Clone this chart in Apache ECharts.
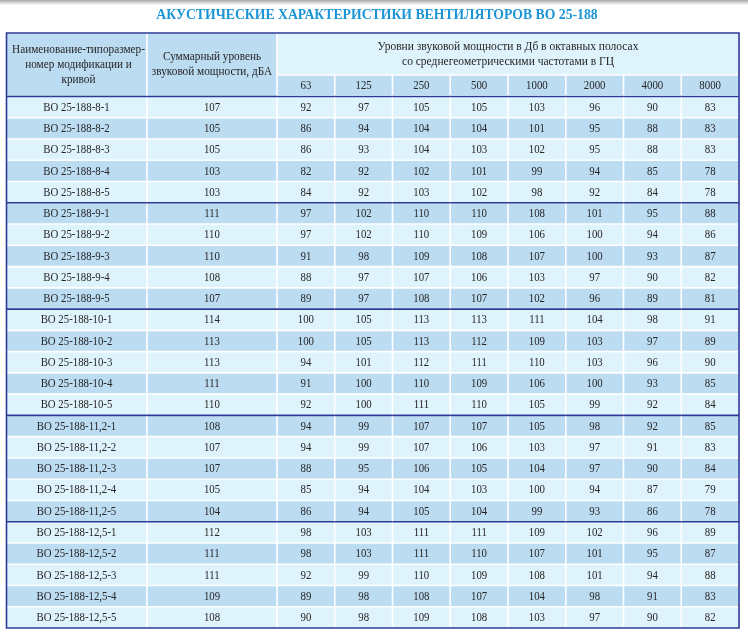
<!DOCTYPE html>
<html>
<head>
<meta charset="utf-8">
<script src="https://cdn.jsdelivr.net/npm/echarts@6/dist/echarts.min.js"></script>
<style>html,body{margin:0;padding:0;background:#fff}#c{width:748px;height:638px}</style>
</head>
<body>
<div id="c"></div>
<script>
// ---- data ----
const titleText = 'АКУСТИЧЕСКИЕ ХАРАКТЕРИСТИКИ ВЕНТИЛЯТОРОВ ВО 25-188';
const headName = 'Наименование-типоразмер-\nномер модификации и\nкривой';
const headTotal = 'Суммарный уровень\nзвуковой мощности, дБА';
const headBands = 'Уровни звуковой мощности в Дб в октавных полосах\nсо среднегеометрическими частотами в ГЦ';
const freqs = ['63', '125', '250', '500', '1000', '2000', '4000', '8000'];
const names = [
  'ВО 25-188-8-1', 'ВО 25-188-8-2', 'ВО 25-188-8-3', 'ВО 25-188-8-4', 'ВО 25-188-8-5',
  'ВО 25-188-9-1', 'ВО 25-188-9-2', 'ВО 25-188-9-3', 'ВО 25-188-9-4', 'ВО 25-188-9-5',
  'ВО 25-188-10-1', 'ВО 25-188-10-2', 'ВО 25-188-10-3', 'ВО 25-188-10-4', 'ВО 25-188-10-5',
  'ВО 25-188-11,2-1', 'ВО 25-188-11,2-2', 'ВО 25-188-11,2-3', 'ВО 25-188-11,2-4', 'ВО 25-188-11,2-5',
  'ВО 25-188-12,5-1', 'ВО 25-188-12,5-2', 'ВО 25-188-12,5-3', 'ВО 25-188-12,5-4', 'ВО 25-188-12,5-5'
];
const totals = [107,105,105,103,103, 111,110,110,108,107, 114,113,113,111,110, 108,107,107,105,104, 112,111,111,109,108];
const f63   = [92,86,86,82,84, 97,97,91,88,89, 100,100,94,91,92, 94,94,88,85,86, 98,98,92,89,90];
const f125  = [97,94,93,92,92, 102,102,98,97,97, 105,105,101,100,100, 99,99,95,94,94, 103,103,99,98,98];
const f250  = [105,104,104,102,103, 110,110,109,107,108, 113,113,112,110,111, 107,107,106,104,105, 111,111,110,108,109];
const f500  = [105,104,103,101,102, 110,109,108,106,107, 113,112,111,109,110, 107,106,105,103,104, 111,110,109,107,108];
const f1000 = [103,101,102,99,98, 108,106,107,103,102, 111,109,110,106,105, 105,103,104,100,99, 109,107,108,104,103];
const f2000 = [96,95,95,94,92, 101,100,100,97,96, 104,103,103,100,99, 98,97,97,94,93, 102,101,101,98,97];
const f4000 = [90,88,88,85,84, 95,94,93,90,89, 98,97,96,93,92, 92,91,90,87,86, 96,95,94,91,90];
const f8000 = [83,83,83,78,78, 88,86,87,82,81, 91,89,90,85,84, 85,83,84,79,78, 89,87,88,83,82];
const bandCols = [f63, f125, f250, f500, f1000, f2000, f4000, f8000];

// ---- style ----
const LIGHT = '#dff3fc', DARK = '#bcdcf2', BLUE = '#2b3a96', INK = '#262626';
const FONT = 'Liberation Serif';
const SX = 0.9;
const HSX = 0.9;
const GAP = 0.8;

const rowIdx = names.map((_, i) => String(i));

function cellRenderer(textOf, opt) {
  return function (params, api) {
    const xi = api.value(0), yi = api.value(1);
    const c = api.coord([xi, yi]);
    const s = api.size([1, 1]);
    const fill = opt.fill || (yi % 2 === 0 ? LIGHT : DARK);
    const children = [
      { type: 'rect', shape: { x: c[0] - s[0] / 2 + GAP, y: c[1] - s[1] / 2 + GAP, width: s[0] - 2 * GAP, height: s[1] - 2 * GAP }, style: { fill: fill } },
      { type: 'text', x: c[0], y: c[1] + 0.5, scaleX: SX, style: { text: textOf(params, api), fontFamily: FONT, fontSize: 12, fill: INK, align: 'center', verticalAlign: 'middle' } }
    ];
    if (opt.groupLines && yi % 5 === 0) {
      children.push({ type: 'line', shape: { x1: c[0] - s[0] / 2, y1: c[1] - s[1] / 2, x2: c[0] + s[0] / 2, y2: c[1] - s[1] / 2 }, style: { stroke: BLUE, lineWidth: 1.6 } });
    }
    return { type: 'group', children: children };
  };
}

const bodyTop = 96.5, bodyH = 531.5;
const grids = [
  { left: 6, top: bodyTop, width: 141, height: bodyH },
  { left: 147, top: bodyTop, width: 130, height: bodyH },
  { left: 277, top: bodyTop, width: 462, height: bodyH },
  { left: 277, top: 75, width: 462, height: 21.5 }
];
const hidden = { show: false };
const xAxes = [
  { type: 'category', gridIndex: 0, data: ['name'], axisLine: hidden, axisTick: hidden, axisLabel: hidden },
  { type: 'category', gridIndex: 1, data: ['total'], axisLine: hidden, axisTick: hidden, axisLabel: hidden },
  { type: 'category', gridIndex: 2, data: freqs, axisLine: hidden, axisTick: hidden, axisLabel: hidden },
  { type: 'category', gridIndex: 3, data: freqs, axisLine: hidden, axisTick: hidden, axisLabel: hidden }
];
const yAxes = [0, 1, 2].map(g => ({ type: 'category', gridIndex: g, data: rowIdx, inverse: true, axisLine: hidden, axisTick: hidden, axisLabel: hidden, splitLine: hidden }));
yAxes.push({ type: 'category', gridIndex: 3, data: ['h'], axisLine: hidden, axisTick: hidden, axisLabel: hidden, splitLine: hidden });

const nameData = names.map((n, i) => [0, i]);
const totalData = totals.map((v, i) => [0, i, v]);
const bandData = [];
bandCols.forEach((col, ci) => col.forEach((v, ri) => bandData.push([ci, ri, v])));
const freqData = freqs.map((f, i) => [i, 0]);

const chart = echarts.init(document.getElementById('c'), null, { renderer: 'canvas' });
chart.setOption({
  backgroundColor: '#ffffff',
  animation: false,
  grid: grids,
  xAxis: xAxes,
  yAxis: yAxes,
  series: [
    { type: 'custom', xAxisIndex: 0, yAxisIndex: 0, data: nameData, renderItem: cellRenderer((p) => names[p.dataIndex], { groupLines: true }) },
    { type: 'custom', xAxisIndex: 1, yAxisIndex: 1, data: totalData, renderItem: cellRenderer((p, api) => String(api.value(2)), { groupLines: true }) },
    { type: 'custom', xAxisIndex: 2, yAxisIndex: 2, data: bandData, renderItem: cellRenderer((p, api) => String(api.value(2)), { groupLines: true }) },
    { type: 'custom', xAxisIndex: 3, yAxisIndex: 3, data: freqData, renderItem: cellRenderer((p) => freqs[p.dataIndex], { fill: DARK }) }
  ],
  graphic: [
    { type: 'rect', z: 1, shape: { x: 0, y: 0, width: 748, height: 5 }, style: { fill: new echarts.graphic.LinearGradient(0, 0, 0, 1, [{ offset: 0, color: '#a9a9a9' }, { offset: 1, color: '#ffffff' }]) } },
    { type: 'text', z: 10, x: 377, y: 15.5, scaleX: 0.98, style: { text: titleText, fontFamily: FONT, fontWeight: 'bold', fontSize: 14, fill: '#1b95d5', align: 'center', verticalAlign: 'middle' } },
    { type: 'rect', z: 1, shape: { x: 6 + GAP, y: 33 + GAP, width: 141 - 2 * GAP, height: 63.5 - 2 * GAP }, style: { fill: DARK } },
    { type: 'rect', z: 1, shape: { x: 147 + GAP, y: 33 + GAP, width: 130 - 2 * GAP, height: 63.5 - 2 * GAP }, style: { fill: DARK } },
    { type: 'rect', z: 1, shape: { x: 277 + GAP, y: 33 + GAP, width: 462 - 2 * GAP, height: 42 - 2 * GAP }, style: { fill: LIGHT } },
    { type: 'text', z: 10, x: 78.5, y: 65, scaleX: HSX, style: { text: headName, fontFamily: FONT, fontSize: 12.5, lineHeight: 15, fill: INK, align: 'center', verticalAlign: 'middle' } },
    { type: 'text', z: 10, x: 212, y: 64.5, scaleX: HSX, style: { text: headTotal, fontFamily: FONT, fontSize: 12.5, lineHeight: 15, fill: INK, align: 'center', verticalAlign: 'middle' } },
    { type: 'text', z: 10, x: 508, y: 54.5, scaleX: 0.92, style: { text: headBands, fontFamily: FONT, fontSize: 12.5, lineHeight: 15, fill: INK, align: 'center', verticalAlign: 'middle' } },
    { type: 'rect', z: 20, shape: { x: 6.5, y: 33, width: 732.5, height: 595 }, style: { fill: 'none', stroke: BLUE, lineWidth: 1.6 } }
  ]
});
</script>
</body>
</html>
